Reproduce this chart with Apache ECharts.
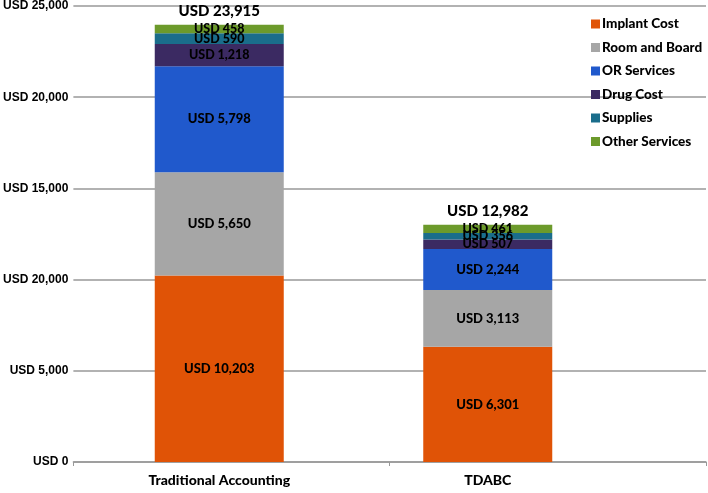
<!DOCTYPE html>
<html>
<head>
<meta charset="utf-8">
<script src="https://cdn.jsdelivr.net/npm/echarts@6/dist/echarts.min.js"></script>
<style>html,body{margin:0;padding:0;background:#fff;}#c{width:708px;height:493px;}</style>
</head>
<body>
<div id="c"></div>
<script>
const categories = ['Traditional Accounting', 'TDABC'];
const seriesNames = ['Implant Cost', 'Room and Board', 'OR Services', 'Drug Cost', 'Supplies', 'Other Services'];
const implantCost = [10203, 6301];
const roomAndBoard = [5650, 3113];
const orServices = [5798, 2244];
const drugCost = [1218, 507];
const supplies = [590, 356];
const otherServices = [458, 461];
const totals = [23915, 12982];
const yTickValues = [0, 5000, 10000, 15000, 20000, 25000];
const yTickLabels = ['USD 0', 'USD 5,000', 'USD 20,000', 'USD 15,000', 'USD 20,000', 'USD 25,000'];
const colors = ['#E05306', '#A6A6A6', '#2059CC', '#3B2A62', '#1A6D8B', '#6C9A2B'];

const seriesValues = [implantCost, roomAndBoard, orServices, drugCost, supplies, otherServices];
const labelFont = 'Lato, "Open Sans", sans-serif';
const fmt = v => 'USD ' + v.toLocaleString('en-US');

const series = seriesValues.map((vals, i) => ({
  name: seriesNames[i],
  type: 'bar',
  stack: 'total',
  xAxisIndex: 1,
  yAxisIndex: 1,
  barWidth: 129,
  itemStyle: { color: colors[i] },
  label: {
    show: true,
    position: 'inside',
    formatter: p => fmt(p.value),
    color: '#000',
    fontWeight: 900,
    fontFamily: labelFont,
    fontSize: i >= 3 ? 12.5 : 13
  },
  data: vals
}));
series.push({
  name: '__total',
  type: 'bar',
  stack: 'total',
  xAxisIndex: 1,
  yAxisIndex: 1,
  barWidth: 129,
  itemStyle: { color: 'transparent' },
  label: {
    show: true,
    position: 'top',
    distance: 6,
    formatter: p => fmt(totals[p.dataIndex]),
    color: '#000',
    fontWeight: 900,
    fontFamily: labelFont,
    fontSize: 15
  },
  data: [0, 0],
  legendHoverLink: false
});

const chart = echarts.init(document.getElementById('c'), null, { renderer: 'canvas' });
chart.setOption({
  animation: false,
  legend: {
    data: seriesNames.map((n, i) => ({ name: n, itemStyle: { color: colors[i] } })),
    orient: 'vertical',
    left: 586,
    top: 12,
    itemWidth: 9,
    itemHeight: 9,
    itemGap: 9.5,
    icon: 'rect',
    textStyle: { fontFamily: labelFont, fontWeight: 900, fontSize: 13.5, color: '#000', padding: [0, 0, 0, -3] }
  },
  grid: [
    { left: 70, right: 2, top: 5, bottom: 31 },
    { left: 85, right: 86, top: 5, bottom: 31 }
  ],
  xAxis: [
    {
      gridIndex: 0, type: 'category', data: ['', ''],
      axisLine: { show: true, lineStyle: { color: '#999', width: 1.5 } },
      axisTick: { show: true, length: 4, lineStyle: { color: '#999' } },
      axisLabel: { show: false }
    },
    {
      gridIndex: 1, type: 'category', data: categories,
      axisLine: { show: false }, axisTick: { show: false },
      axisLabel: { color: '#000', fontWeight: 900, fontFamily: labelFont, fontSize: 14, margin: 11 }
    }
  ],
  yAxis: [
    {
      gridIndex: 0, type: 'value', min: 0, max: 25000, interval: 5000,
      axisLine: { show: false }, axisTick: { show: false },
      splitLine: { lineStyle: { color: '#999', width: 1.5 } },
      axisLabel: {
        color: '#000', fontWeight: 'bold', fontFamily: '"Liberation Sans", Arial, sans-serif', fontSize: 12, margin: 5,
        formatter: v => yTickLabels[yTickValues.indexOf(v)]
      }
    },
    {
      gridIndex: 1, type: 'value', min: 0, max: 25000, interval: 5000, show: false,
      splitLine: { show: false }
    }
  ],
  series: series
});
</script>
</body>
</html>
